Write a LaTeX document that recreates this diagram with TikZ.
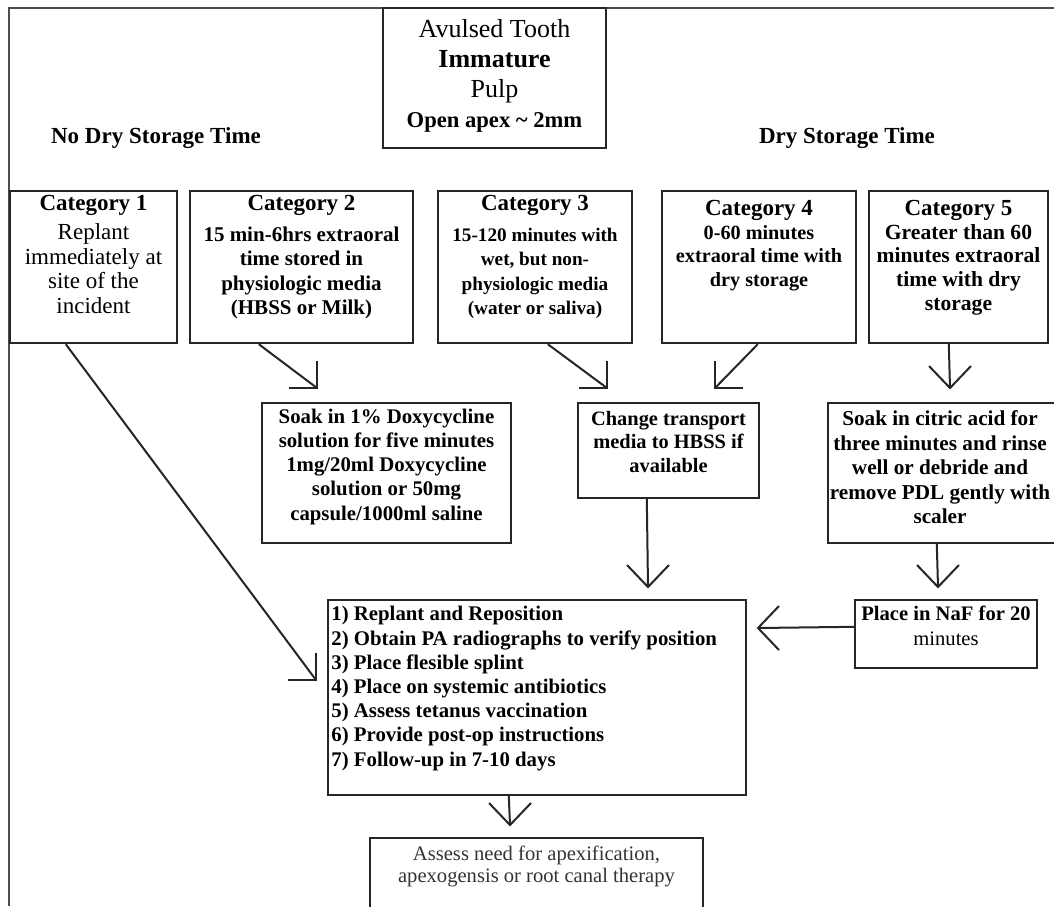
\documentclass[tikz,border=0pt]{standalone}
\usepackage{fontspec}
\setmainfont{Liberation Serif}
\usetikzlibrary{fit,calc}
\newcommand\hdSE[1]{\draw[conn] (#1) ++(0,-27) -- (#1) -- ++(-28,0);}
\newcommand\hdSW[1]{\draw[conn] (#1) ++(0,-27) -- (#1) -- ++(28,0);}
\newcommand\hdDown[1]{\draw[conn] (#1) ++(-21,-22) -- (#1) -- ++(21,-22);}
\newcommand\hdLeft[1]{\draw[conn] (#1) ++(21,-22) -- (#1) -- ++(21,22);}
\begin{document}
\begin{tikzpicture}[x=0.5pt,y=-0.5pt,
  box/.style={draw=black!85, line width=1.2pt, inner sep=0pt, fill=white},
  conn/.style={draw=black!85, line width=1pt},
  txt/.style={inner sep=0pt, align=center},
  frameline/.style={draw=black!70, line width=0.6pt}]
\useasboundingbox (0,0) rectangle (1054,906);
\clip (0,0) rectangle (1054,906);
\fill[white] (0,0) rectangle (1054,906);
\draw[frameline] (9,906) -- (9,8) -- (1054,8);

% top box
\node[box, fit={(383,8) (606,148)}] (top) {};
\node[txt, anchor=north, font=\fontsize{13}{15}\selectfont] (topt) at (494.5,19)
  {Avulsed Tooth\\\textbf{Immature}\\Pulp\\{\fontsize{11.3}{15}\selectfont\bfseries Open apex \textasciitilde{} 2mm}};

\node[anchor=base, font=\fontsize{11.5}{14}\selectfont\bfseries] (nodry) at (156,143) {No Dry Storage Time};
\node[anchor=base, font=\fontsize{11.5}{14}\selectfont\bfseries] (dry) at (847,143) {Dry Storage Time};

% categories
\node[box, fit={(10,191) (177,343)}] (c1) {};
\node[txt, anchor=north, font=\fontsize{11.5}{12.3}\selectfont] (c1t) at (93.5,194.5)
  {\textbf{Category 1}\\[2.5pt]Replant\\immediately at\\site of the\\incident};
\node[box, fit={(190,191) (413,343)}] (c2) {};
\node[txt, anchor=north, font=\fontsize{10.5}{12.2}\selectfont\bfseries] (c2t) at (301.5,194.5)
  {{\fontsize{11.5}{12.2}\selectfont Category 2}\\[3.5pt]15 min-6hrs extraoral\\time stored in\\physiologic media\\(HBSS or Milk)};
\node[box, fit={(438,191) (632,343)}] (c3) {};
\node[txt, anchor=north, font=\fontsize{9.6}{12.2}\selectfont\bfseries] (c3t) at (535,194.5)
  {{\fontsize{11.5}{12.2}\selectfont Category 3}\\[3.5pt]15-120 minutes with\\wet, but non-\\physiologic media\\(water or saliva)};
\node[box, fit={(662,191) (856,343)}] (c4) {};
\node[txt, anchor=north, font=\fontsize{10.1}{11.8}\selectfont\bfseries] (c4t) at (759,200)
  {{\fontsize{11.5}{11.8}\selectfont Category 4}\\0-60 minutes\\extraoral time with\\dry storage};
\node[box, fit={(869,191) (1048,343)}] (c5) {};
\node[txt, anchor=north, font=\fontsize{10.8}{11.8}\selectfont\bfseries] (c5t) at (958.5,200)
  {{\fontsize{11.5}{11.8}\selectfont Category 5}\\Greater than 60\\minutes extraoral\\time with dry\\storage};

% second row
\node[box, fit={(262,403) (511,543)}] (dx) {};
\node[txt, anchor=north, font=\fontsize{10.4}{12.1}\selectfont\bfseries] (dxt) at (386.5,408.5)
  {Soak in 1\% Doxycycline\\solution for five minutes\\1mg/20ml Doxycycline\\solution or 50mg\\capsule/1000ml saline};
\node[box, fit={(578,403) (759,498)}] (ch) {};
\node[txt, anchor=north, font=\fontsize{10.2}{11.8}\selectfont\bfseries] (cht) at (668.5,410.5)
  {Change transport\\media to HBSS if\\available};
\node[box, fit={(828,403) (1062,543)}] (ct) {};
\node[txt, anchor=north, font=\fontsize{10.6}{12.2}\selectfont\bfseries] (ctt) at (940,410.5)
  {Soak in citric acid for\\three minutes and rinse\\well or debride and\\remove PDL gently with\\scaler};

% third row
\node[box, fit={(328,600) (746,795)}] (mn) {};
\node[txt, align=left, anchor=north west, font=\fontsize{10.4}{12.1}\selectfont\bfseries] (mnt) at (331,606)
  {1) Replant and Reposition\\2) Obtain PA radiographs to verify position\\3) Place flesible splint\\4) Place on systemic antibiotics\\5) Assess tetanus vaccination\\6) Provide post-op instructions\\7) Follow-up in 7-10 days};
\node[box, fit={(855,600) (1037,668)}] (nf) {};
\node[txt, anchor=north, font=\fontsize{10.3}{12.5}\selectfont] (nft) at (946,605.5)
  {\textbf{Place in NaF for 20}\\minutes};

% bottom
\node[box, fit={(370,838) (703,914)}] (bt) {};
\node[txt, anchor=north, font=\fontsize{10.3}{11}\selectfont, text=black!80] (btt) at (536.5,846)
  {Assess need for apexification,\\apexogensis or root canal therapy};

% arrow tips
\coordinate (t1) at (316,680);
\coordinate (t2) at (317,388);
\coordinate (t3) at (607,388);
\coordinate (t4) at (715,388);
\coordinate (t5) at (950,388);
\coordinate (t6) at (648,587);
\coordinate (t7) at (938,587);
\coordinate (t8) at (758,628);
\coordinate (t9) at (510,825);

\draw[conn] ($(c1.south west)+(57,0)$) -- (t1); \hdSE{t1}
\draw[conn] ($(c2.south west)+(70,0)$) -- (t2); \hdSE{t2}
\draw[conn] ($(c3.south west)+(111,0)$) -- (t3); \hdSE{t3}
\draw[conn] ($(c4.south west)+(97,0)$) -- (t4); \hdSW{t4}
\draw[conn] ($(c5.south west)+(81,0)$) -- (t5); \hdDown{t5}
\draw[conn] ($(ch.south west)+(70,0)$) -- (t6); \hdDown{t6}
\draw[conn] ($(ct.south west)+(110,0)$) -- (t7); \hdDown{t7}
\draw[conn] ($(nf.north west)+(0,28)$) -- (t8); \hdLeft{t8}
\draw[conn] ($(mn.south west)+(182,0)$) -- (t9); \hdDown{t9}
\end{tikzpicture}
\end{document}
